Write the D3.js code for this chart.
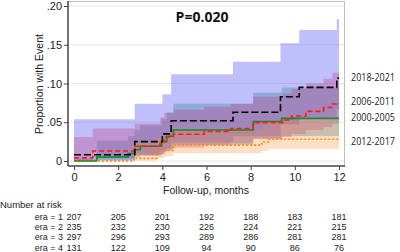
<!DOCTYPE html>
<html>
<head>
<meta charset="utf-8">
<script src="https://cdn.jsdelivr.net/npm/d3@7"></script>
<style>
  body { margin: 0; background: #fff; }
  svg { display: block; font-family: "Liberation Sans", Arial, sans-serif; }
</style>
</head>
<body>
<div id="root"></div>
<script>
// Kaplan-Meier style cumulative event curves by era (months)
var era4Times = [0, 2.75, 4.0, 4.4, 7.2, 9.35, 10.2, 11.9];
var era4Est   = [0.008, 0.025, 0.035, 0.052, 0.063, 0.083, 0.095, 0.107];
var era4Lo    = [0.001, 0.008, 0.013, 0.024, 0.032, 0.047, 0.056, 0.066];
var era4Hi    = [0.054, 0.074, 0.086, 0.112, 0.128, 0.152, 0.169, 0.183];

var era2Times = [0, 0.85, 2.75, 3.9, 4.1, 4.5, 5.9, 7.1, 8.1, 9.45, 9.85, 10.5, 11.3, 11.7];
var era2Est   = [0.004, 0.013, 0.019, 0.025, 0.031, 0.0345, 0.038, 0.042, 0.0495, 0.053, 0.058, 0.064, 0.069, 0.0735];
var era2Lo    = [0.0006, 0.004, 0.007, 0.011, 0.015, 0.017, 0.020, 0.023, 0.028, 0.031, 0.035, 0.040, 0.044, 0.048];
var era2Hi    = [0.031, 0.042, 0.048, 0.056, 0.062, 0.066, 0.070, 0.074, 0.083, 0.087, 0.093, 0.100, 0.106, 0.114];

var era1Times = [0, 1.03, 2.45, 2.75, 3.0, 3.97, 4.2, 4.5, 8.12, 9.4];
var era1Est   = [0, 0.005, 0.0097, 0.0145, 0.019, 0.025, 0.032, 0.040, 0.051, 0.055];
var era1Lo    = [0, 0.0007, 0.002, 0.005, 0.007, 0.011, 0.016, 0.021, 0.029, 0.032];
var era1Hi    = [0.003, 0.026, 0.032, 0.040, 0.046, 0.054, 0.063, 0.074, 0.088, 0.095];

var era3Times = [0, 2.7, 3.75, 4.1, 4.5, 8.5, 8.8];
var era3Est   = [0, 0.0034, 0.0101, 0.0135, 0.0205, 0.0245, 0.028];
var era3Lo    = [0, 0.0005, 0.004, 0.006, 0.010, 0.013, 0.0155];
var era3Hi    = [0.001, 0.024, 0.030, 0.034, 0.040, 0.046, 0.052];

var xTicks = [0, 2, 4, 6, 8, 10, 12];
var yTicks = [0, 0.05, 0.10, 0.15, 0.20];
var yTickLabels = ["0", ".05", ".10", ".15", ".20"];

var riskLabels = ["era = 1", "era = 2", "era = 3", "era = 4"];
var riskEra1 = [207, 205, 201, 192, 188, 183, 181];
var riskEra2 = [235, 232, 230, 226, 224, 221, 215];
var riskEra3 = [297, 296, 293, 289, 286, 281, 281];
var riskEra4 = [131, 122, 109, 94, 90, 86, 76];

var legendLabels = ["2018-2021", "2006-2011", "2000-2005", "2012-2017"];
var pText = "P=0.020";

var width = 400, height = 252;

var svg = d3.select("#root")
  .append("svg")
  .attr("width", width)
  .attr("height", height);

var x = d3.scaleLinear().domain([0, 12]).range([74, 339]);
var y = d3.scaleLinear().domain([0, 0.2]).range([161, 6]);

function toSeries(times, est, lo, hi) {
  var s = times.map(function (t, i) { return { t: t, e: est[i], lo: lo[i], hi: hi[i] }; });
  var last = s[s.length - 1];
  s.push({ t: 12, e: last.e, lo: last.lo, hi: last.hi });
  return s;
}

var s4 = toSeries(era4Times, era4Est, era4Lo, era4Hi);
var s2 = toSeries(era2Times, era2Est, era2Lo, era2Hi);
var s1 = toSeries(era1Times, era1Est, era1Lo, era1Hi);
var s3 = toSeries(era3Times, era3Est, era3Lo, era3Hi);

// gridlines
svg.append("g").selectAll("line")
  .data(yTicks)
  .enter().append("line")
  .attr("x1", 68).attr("x2", 345)
  .attr("y1", function (d) { return y(d); })
  .attr("y2", function (d) { return y(d); })
  .attr("stroke", "#e6e6e6")
  .attr("stroke-width", 1);

// plot frame (top, right)
svg.append("path")
  .attr("d", "M68,1.5H344.5V166")
  .attr("fill", "none")
  .attr("stroke", "#bdbdbd")
  .attr("stroke-width", 1);

var area = d3.area()
  .curve(d3.curveStepAfter)
  .x(function (d) { return x(d.t); })
  .y0(function (d) { return y(d.lo); })
  .y1(function (d) { return y(d.hi); });

var line = d3.line()
  .curve(d3.curveStepAfter)
  .x(function (d) { return x(d.t); })
  .y(function (d) { return y(d.e); });

// CI bands
var bands = [
  { s: s4, fill: "rgba(95,95,245,0.40)" },
  { s: s1, fill: "rgba(70,140,160,0.38)" },
  { s: s2, fill: "rgba(190,60,130,0.33)" },
  { s: s3, fill: "rgba(250,140,50,0.28)" }
];
bands.forEach(function (b) {
  svg.append("path").datum(b.s)
    .attr("d", area)
    .attr("fill", b.fill);
});

// curves
var curves = [
  { s: s3, stroke: "#ff8c00", dash: "2,2" },
  { s: s1, stroke: "#1a8a1a", dash: null },
  { s: s2, stroke: "#ff1a1a", dash: "5,3" },
  { s: s4, stroke: "#000000", dash: "7,3" }
];
curves.forEach(function (c) {
  svg.append("path").datum(c.s)
    .attr("d", line)
    .attr("fill", "none")
    .attr("stroke", c.stroke)
    .attr("stroke-width", 1.6)
    .attr("stroke-dasharray", c.dash);
});

// axes
var yAxis = svg.append("g")
  .attr("transform", "translate(68,0)")
  .call(d3.axisLeft(y).tickValues(yTicks).tickSize(4)
    .tickFormat(function (d, i) { return yTickLabels[i]; }));
yAxis.select(".domain").attr("d", "M0,1V166").attr("stroke", "#444").attr("stroke-width", 1.5);
yAxis.selectAll(".tick line").attr("stroke", "#444");
yAxis.selectAll(".tick text").attr("font-size", 11).attr("fill", "#222")
  .attr("font-family", "Liberation Sans, Arial, sans-serif").attr("x", -6);

var xAxis = svg.append("g")
  .attr("transform", "translate(0,166)")
  .call(d3.axisBottom(x).tickValues(xTicks).tickSize(4));
xAxis.select(".domain").attr("d", "M68,0H345").attr("stroke", "#444").attr("stroke-width", 1.5);
xAxis.selectAll(".tick line").attr("stroke", "#444");
xAxis.selectAll(".tick text").attr("font-size", 11).attr("fill", "#222")
  .attr("font-family", "Liberation Sans, Arial, sans-serif").attr("y", 7);

// axis titles
svg.append("text")
  .attr("transform", "translate(43,84) rotate(-90)")
  .attr("text-anchor", "middle")
  .attr("font-size", 10.5)
  .attr("fill", "#222")
  .text("Proportion with Event");

svg.append("text")
  .attr("x", 206).attr("y", 194)
  .attr("text-anchor", "middle")
  .attr("font-size", 10.5)
  .attr("fill", "#222")
  .text("Follow-up, months");

// p value
svg.append("text")
  .attr("x", 202).attr("y", 22)
  .attr("text-anchor", "middle")
  .attr("font-family", "Open Sans, sans-serif")
  .attr("font-weight", "bold")
  .attr("font-size", 14)
  .attr("fill", "#111")
  .text(pText);

// right labels
var legendY = [77, 101, 117.5, 141];
svg.append("g").selectAll("text")
  .data(legendLabels)
  .enter().append("text")
  .attr("x", 351)
  .attr("y", function (d, i) { return legendY[i]; })
  .attr("dy", "0.35em")
  .attr("font-family", "Open Sans, sans-serif")
  .attr("font-size", 10)
  .attr("textLength", 44)
  .attr("lengthAdjust", "spacingAndGlyphs")
  .attr("fill", "#222")
  .text(function (d) { return d; });

// number at risk table
svg.append("text")
  .attr("x", 0).attr("y", 208)
  .attr("font-size", 9.5)
  .attr("fill", "#222")
  .text("Number at risk");

var riskRows = [riskEra1, riskEra2, riskEra3, riskEra4];
var rowY = d3.scaleLinear().domain([0, 3]).range([219.5, 250.5]);
riskRows.forEach(function (row, r) {
  var g = svg.append("g");
  g.append("text")
    .attr("x", 63).attr("y", rowY(r))
    .attr("text-anchor", "end")
    .attr("font-size", 9)
    .attr("fill", "#222")
    .text(riskLabels[r]);
  g.selectAll("text.n")
    .data(row)
    .enter().append("text")
    .attr("class", "n")
    .attr("x", function (d, i) { return x(xTicks[i]); })
    .attr("y", rowY(r))
    .attr("text-anchor", "middle")
    .attr("font-size", 9)
    .attr("fill", "#222")
    .text(function (d) { return d; });
});
</script>
</body>
</html>
